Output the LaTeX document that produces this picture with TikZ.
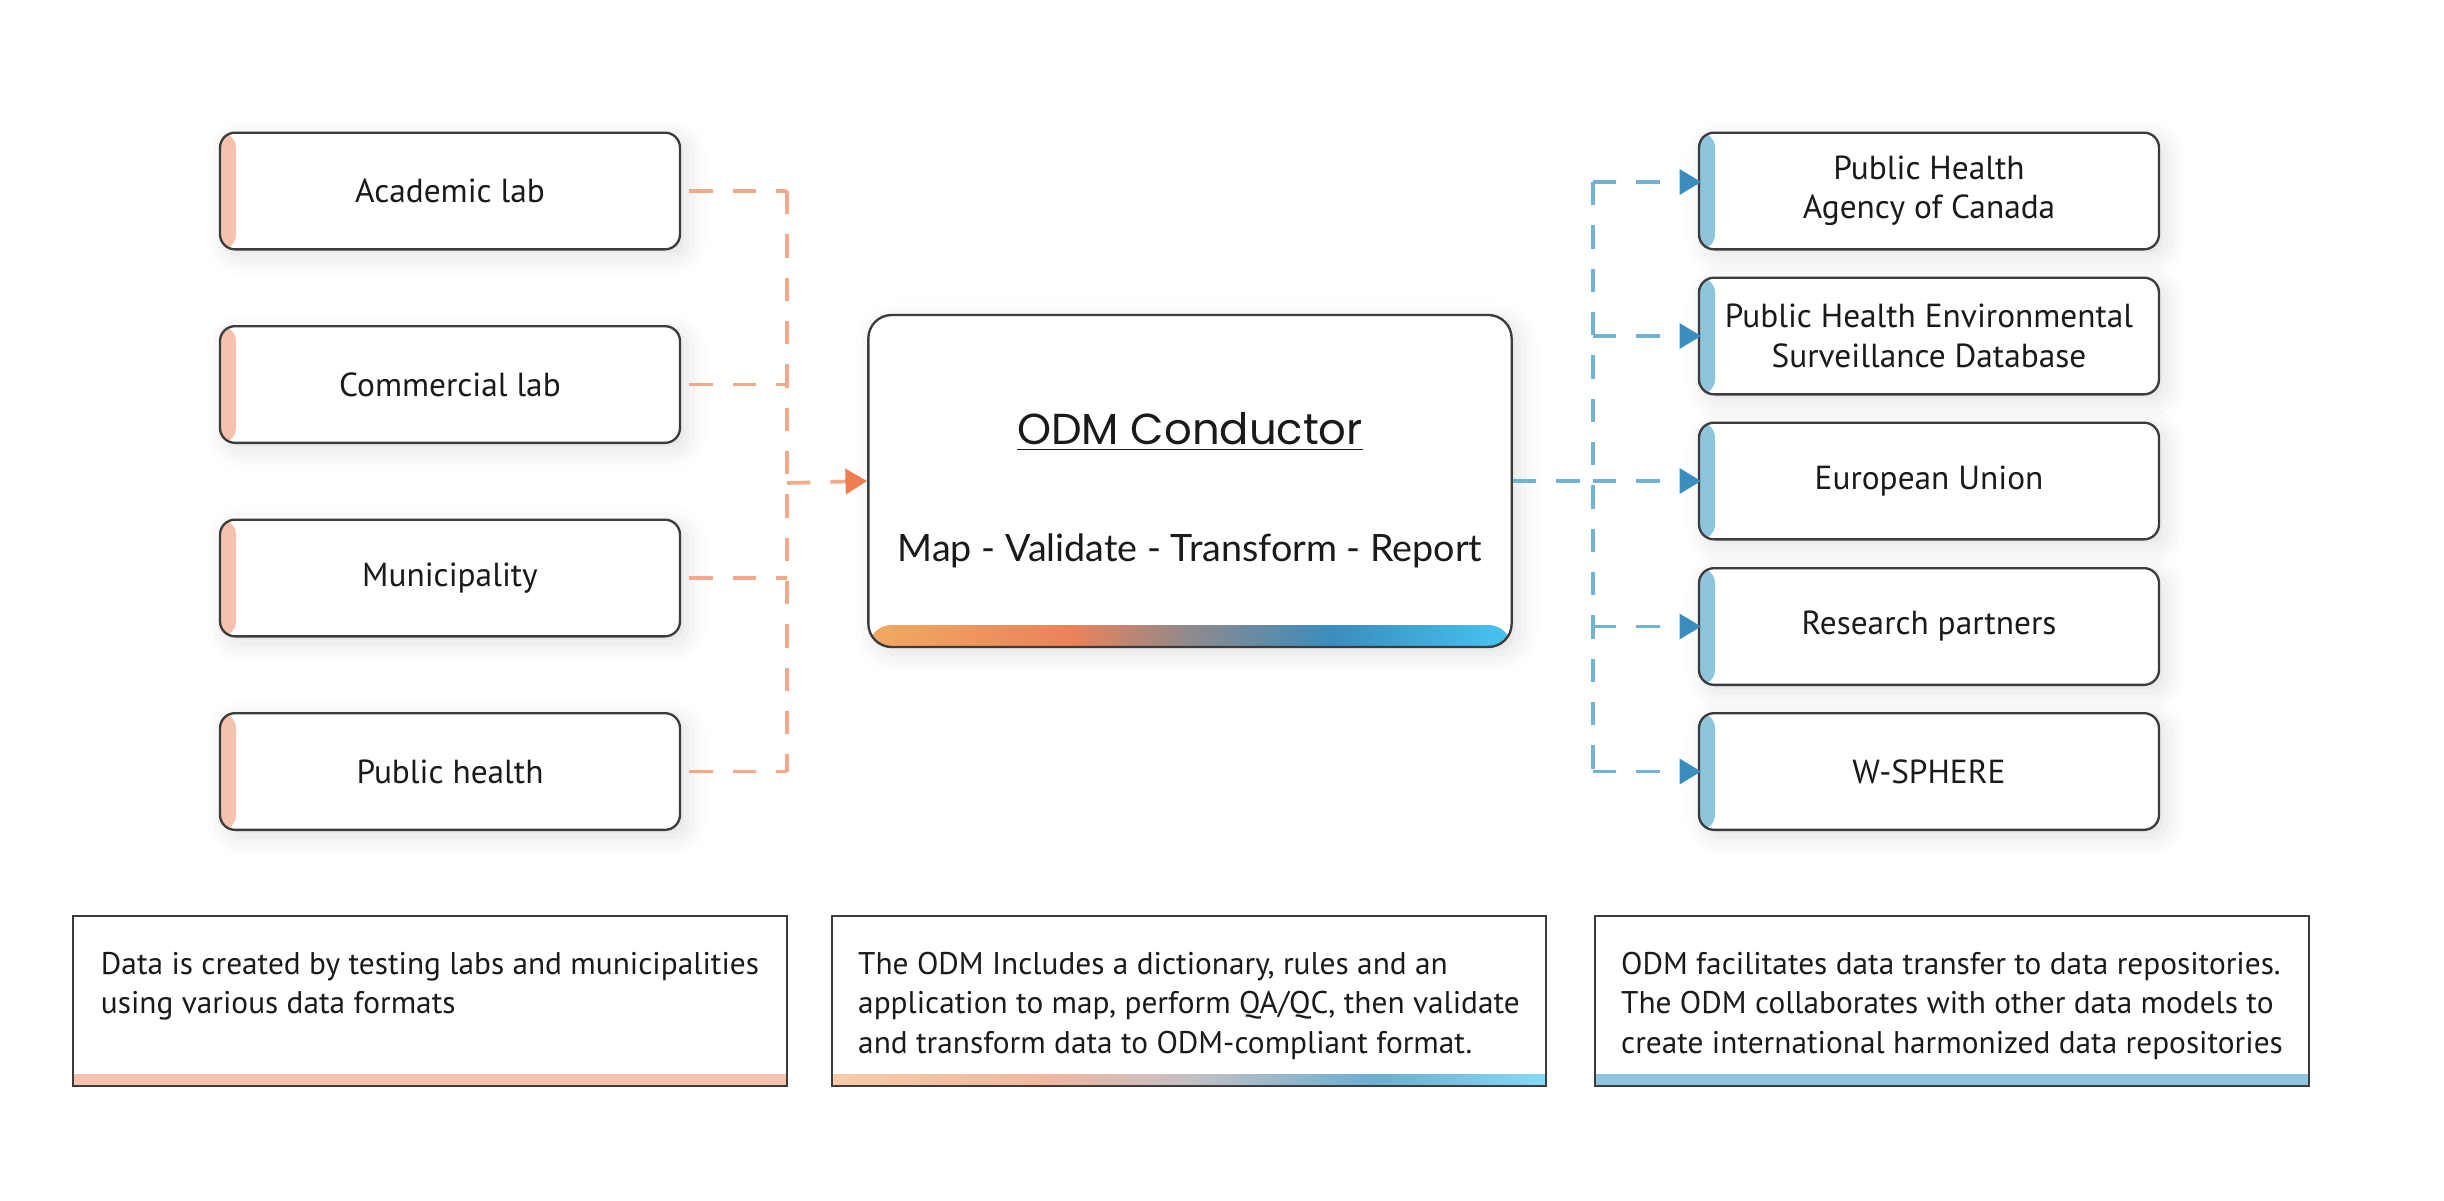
\documentclass[tikz,border=0pt]{standalone}
\usepackage{fontspec}
\setmainfont{PT Sans}
\newfontfamily\titlefont{Poppins}
\newfontfamily\stepsfont{Lato}
\usetikzlibrary{arrows.meta,shadows.blur}

\definecolor{odmorange}{HTML}{EE7D52}
\definecolor{odmsalmon}{HTML}{F2A889}
\definecolor{odmpeach}{HTML}{F6C2AD}
\definecolor{odmblue}{HTML}{3A8DBE}
\definecolor{odmsky}{HTML}{72B3D3}
\definecolor{odmpale}{HTML}{8EC4DC}
\definecolor{odmframe}{HTML}{3C3C3C}
\definecolor{odmtext}{HTML}{1A1A1A}

\definecolor{odmbarA}{HTML}{F2AA62}
\definecolor{odmbarB}{HTML}{E9825A}
\definecolor{odmbarC}{HTML}{8F8A8C}
\definecolor{odmbarD}{HTML}{3A8DBE}
\definecolor{odmbarE}{HTML}{48C4F2}
\pgfdeclarehorizontalshading{odmbar}{100bp}{color(0bp)=(odmbarA); color(25bp)=(odmbarA);
  color(41bp)=(odmbarB); color(50bp)=(odmbarC); color(61bp)=(odmbarD); color(75bp)=(odmbarE);
  color(100bp)=(odmbarE)}
\definecolor{odmfadeA}{HTML}{F6CCA8}
\definecolor{odmfadeB}{HTML}{EFB7A2}
\definecolor{odmfadeC}{HTML}{C4C0C4}
\definecolor{odmfadeD}{HTML}{6BAED0}
\definecolor{odmfadeE}{HTML}{86DAF4}
\pgfdeclarehorizontalshading{odmfade}{100bp}{color(0bp)=(odmfadeA); color(25bp)=(odmfadeA);
  color(40bp)=(odmfadeB); color(50bp)=(odmfadeC); color(63bp)=(odmfadeD); color(75bp)=(odmfadeE);
  color(100bp)=(odmfadeE)}

% one note: fixed lines, top aligned
\newcommand{\odmnote}[1]{\parbox[c][29.5pt][t]{195pt}{#1}}

\tikzset{
  softshadow/.style={blur shadow={shadow xshift=2pt, shadow yshift=-2pt,
    shadow blur radius=6pt, shadow opacity=12}},
  srcbox/.style={draw=odmframe, line width=0.7pt, rounded corners=4.5pt, fill=white,
    minimum width=138pt, minimum height=35pt, inner sep=0pt, align=center,
    text=odmtext, font=\fontsize{10}{11.8}\selectfont, softshadow,
    path picture={\fill[odmpeach] (path picture bounding box.north west)
      rectangle ([xshift=4.8pt]path picture bounding box.south west);}},
  dstbox/.style={srcbox,
    path picture={\fill[odmpale] (path picture bounding box.north west)
      rectangle ([xshift=4.8pt]path picture bounding box.south west);}},
  notebox/.style={draw=odmframe, line width=0.6pt, fill=white, minimum width=214pt,
    minimum height=51pt, inner sep=0pt, text=odmtext, font=\fontsize{9.4}{11.9}\selectfont},
  flowin/.style={draw=odmsalmon, line width=1.1pt, dash pattern=on 7pt off 6pt},
  flowout/.style={draw=odmsky, line width=1.1pt, dash pattern=on 7pt off 6pt},
}

\begin{document}
\begin{tikzpicture}[x=0.3pt,y=0.3pt,yscale=-1]
\useasboundingbox (0,0) rectangle (2444,1200);

% sources
\node[srcbox] (acad) at (450,191) {Academic lab};
\node[srcbox] (comm) at (450,384.5) {Commercial lab};
\node[srcbox] (muni) at (450,578) {Municipality};
\node[srcbox] (pubh) at (450,771.5) {Public health};

% conductor
\node[draw=odmframe, line width=0.7pt, rounded corners=7pt, fill=white,
  minimum width=193pt, minimum height=99.6pt, inner sep=0pt, softshadow,
  path picture={\shade[shading=odmbar] (path picture bounding box.south west)
    rectangle ([yshift=6.6pt]path picture bounding box.south east);}] (core) at (1190,481) {};
\node[text=odmtext, font=\titlefont\fontsize{13}{15}\selectfont] (coretitle) at (1190,432)
  {\underline{ODM Conductor}};
\node[text=odmtext, font=\stepsfont\fontsize{11.3}{14}\selectfont] (coresteps) at (1190,551)
  {Map - Validate - Transform - Report};

% targets
\node[dstbox] (phac) at (1929,191) {Public Health\\Agency of Canada};
\node[dstbox] (phes) at (1929,336) {Public Health Environmental\\Surveillance Database};
\node[dstbox] (euro) at (1929,481) {European Union};
\node[dstbox] (rsch) at (1929,626.5) {Research partners};
\node[dstbox] (wsph) at (1929,771.5) {W-SPHERE};

% connectors in
\coordinate (inbus) at (787,483);
\draw[flowin] (inbus |- acad.east) -- (inbus |- pubh.east);
\foreach \src in {acad,comm,muni,pubh}
  \draw[flowin] ([xshift=2.4pt]\src.east) -- (inbus |- \src.east);
\draw[flowin, -{Triangle[length=6.5pt,width=7.5pt,color=odmorange]}] (inbus) -- (core.west);

% connectors out
\coordinate (outbus) at (1593,481);
\draw[flowout] (core.east) -- (outbus);
\draw[flowout] ([yshift=-2.7pt]outbus |- phac.west) -- (outbus |- wsph.west);
\draw[flowout, -{Triangle[length=6.5pt,width=7.5pt,color=odmblue]}]
  ([yshift=-2.7pt]outbus |- phac.west) -- ([xshift=1pt,yshift=-2.7pt]phac.west);
\foreach \dst in {phes,euro,rsch,wsph}
  \draw[flowout, -{Triangle[length=6.5pt,width=7.5pt,color=odmblue]}]
    (outbus |- \dst.west) -- ([xshift=1pt]\dst.west);

% notes
\node[notebox, path picture={\fill[odmpeach] (path picture bounding box.south west)
    rectangle ([yshift=3.6pt]path picture bounding box.south east);}] (notesrc) at (430,1001)
  {\odmnote{\hbox{Data is created by testing labs and municipalities}
   \hbox{using various data formats}}};
\node[notebox, path picture={\shade[shading=odmfade] (path picture bounding box.south west)
    rectangle ([yshift=3.6pt]path picture bounding box.south east);}] (notecore) at (1189,1001)
  {\odmnote{\hbox{The ODM Includes a dictionary, rules and an}
   \hbox{application to map, perform QA/QC, then validate}
   \hbox{and transform data to ODM-compliant format.}}};
\node[notebox, path picture={\fill[odmpale] (path picture bounding box.south west)
    rectangle ([yshift=3.6pt]path picture bounding box.south east);}] (notedst) at (1952,1001)
  {\odmnote{\hbox{ODM facilitates data transfer to data repositories.}
   \hbox{The ODM collaborates with other data models to}
   \hbox{create international harmonized data repositories}}};
\end{tikzpicture}
\end{document}
